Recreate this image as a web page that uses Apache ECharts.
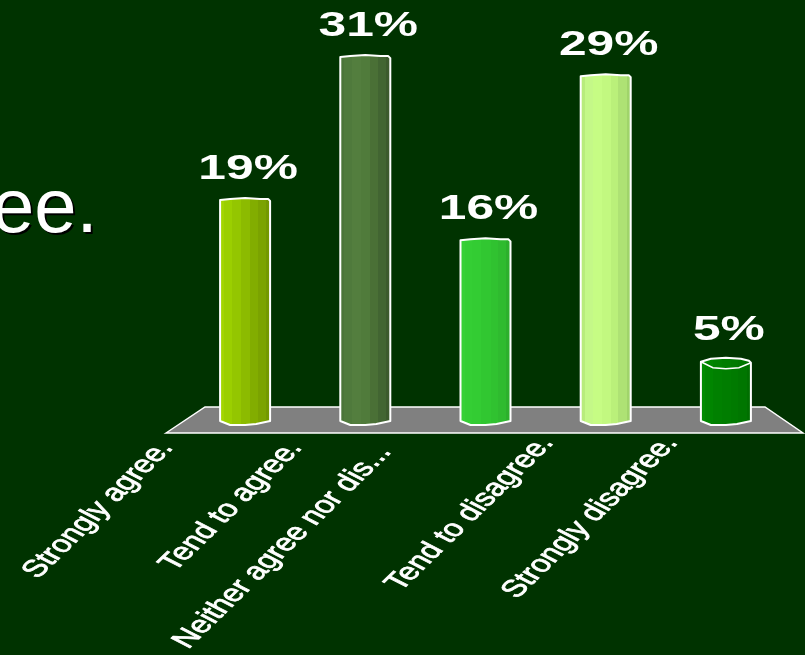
<!DOCTYPE html>
<html><head><meta charset="utf-8">
<style>html,body{margin:0;padding:0;background:#003300}#c{width:805px;height:655px}</style>
<script src="https://cdn.jsdelivr.net/npm/echarts@6/dist/echarts.min.js"></script>
</head><body><div id="c"></div>
<script>
const categories = ['Strongly agree.', 'Tend to agree.', 'Neither agree nor dis...', 'Tend to disagree.', 'Strongly disagree.'];
const values = [19, 31, 15.6, 29.4, 5.4];
const valueLabels = ['19%', '31%', '16%', '29%', '5%'];
const barColors = [
  ['#a3d600', '#9bcf00', '#94c600', '#8cbb00', '#82ad00', '#7ba300', '#739800'],
  ['#4b7539', '#4f7a3c', '#537e3e', '#507b3b', '#4a7036', '#426532', '#3c5a2d'],
  ['#36d136', '#34ce34', '#33cc33', '#31c731', '#30c230', '#2fbb2f', '#2cb02c'],
  ['#b8ec7c', '#c4f888', '#c6fc84', '#c2f880', '#baf07a', '#aee274', '#a0d46a'],
  ['#008c00', '#008500', '#008000', '#007d00', '#007a00', '#007600', '#006f00']
];
// label end-point offset from the category centre, in px
const labelOffsetX = [-79, -70, -101, -59, -55];
const labelY = [444, 444, 448, 439, 439];
const capDepth = [0, 0, 0, 0, 7];
const BAR_W = 50, STRETCH = 1.42, ANGLE = 54 * Math.PI / 180;

function renderBar(params, api) {
  const i = api.value(0);
  const [cx, top] = api.coord([i, api.value(1)]);
  const [, base] = api.coord([i, 0]);
  const l = cx - BAR_W / 2, r = cx + BAR_W / 2;
  const d = capDepth[i], rise = d ? 3 : 1;
  const c = barColors[i];
  const pts = [
    [l, top + 1], [l + 10, top - rise + 1], [cx, top - rise], [r - 10, top - rise + 1], [r - 2, top], [r, top + 2],
    [r, base - 4], [r - 14, base - 1], [cx, base], [l + 10, base], [l, base - 4]
  ];
  const edges = [0, .1, .25, .42, .6, .74, .9, 1];
  const colorStops = [];
  c.forEach((col, k) => {
    colorStops.push({ offset: edges[k], color: col }, { offset: edges[k + 1], color: col });
  });
  const children = [{
    type: 'polygon', shape: { points: pts },
    style: { fill: { type: 'linear', x: 0, y: 0, x2: 1, y2: 0, colorStops }, stroke: '#fff', lineWidth: 2, lineJoin: 'round' }
  }];
  if (d) {
    children.push({
      type: 'polyline',
      shape: { points: [[l, top + 1], [l + 12, top + d], [cx, top + d + 1], [r - 12, top + d], [r, top + 2]] },
      style: { fill: null, stroke: '#fff', lineWidth: 1.5 }
    });
  }
  children.push({
    type: 'text', x: cx + 3, y: top - 30, scaleX: STRETCH,
    style: { text: valueLabels[i], fill: '#fff', font: 'bold 35px "Liberation Sans", Arial, sans-serif', align: 'center', verticalAlign: 'middle' }
  });
  children.push({
    type: 'group', x: cx + labelOffsetX[i], y: labelY[i], scaleX: STRETCH,
    children: [{
      type: 'text', rotation: ANGLE,
      style: { text: categories[i], fill: '#fff', stroke: '#fff', lineWidth: 0.7, font: '24px "Liberation Sans", Arial, sans-serif', align: 'right', verticalAlign: 'middle' }
    }]
  });
  return { type: 'group', children };
}

const titleFont = '76px "Liberation Sans", Arial, sans-serif';
const chart = echarts.init(document.getElementById('c'), null, { renderer: 'canvas' });
chart.setOption({
  backgroundColor: '#003300',
  animation: false,
  grid: { left: 185, right: 19, top: 8.5, bottom: 230 },
  xAxis: { type: 'category', data: categories, show: false },
  yAxis: { type: 'value', min: 0, max: 35, show: false },
  graphic: [
    { type: 'polygon', z: 0, shape: { points: [[166, 433], [205, 407], [765, 407], [803, 433]] },
      style: { fill: '#808080', stroke: '#fff', lineWidth: 1.5 } },
    { type: 'text', z: 1, left: -6, top: 175, style: { text: 'ee.', fill: '#000', font: titleFont } },
    { type: 'text', z: 2, left: -8, top: 173, style: { text: 'ee.', fill: '#fff', font: titleFont } }
  ],
  series: [{
    type: 'custom', clip: false, renderItem: renderBar,
    encode: { x: 0, y: 1 },
    data: values.map((v, i) => [i, v])
  }]
});
</script></body></html>
